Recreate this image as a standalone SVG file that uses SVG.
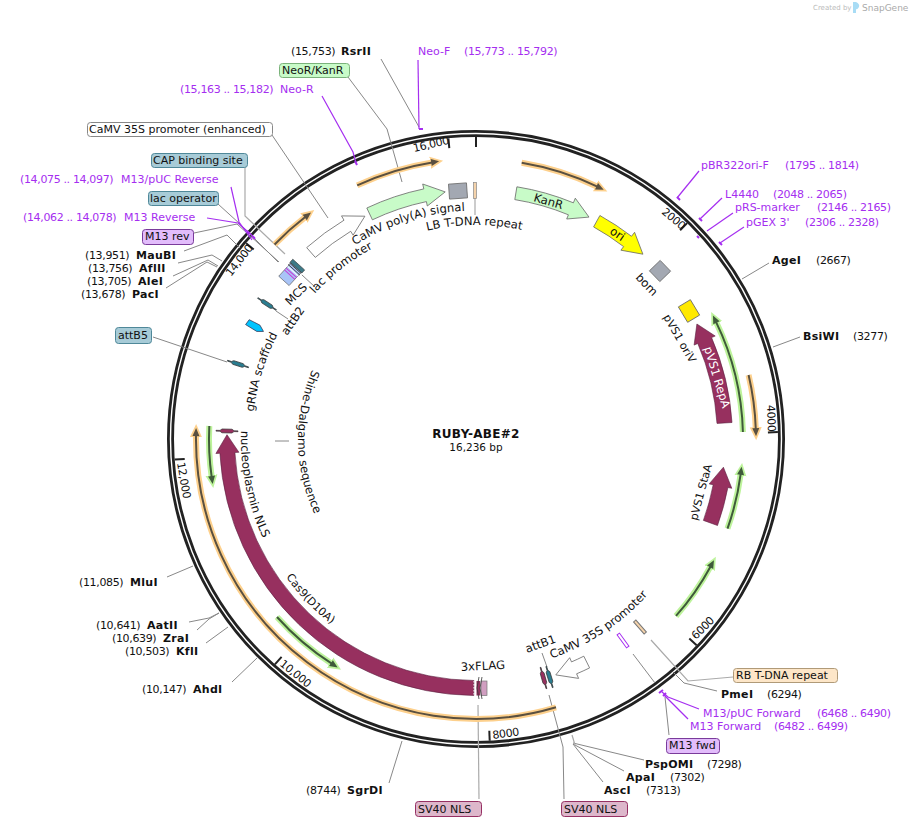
<svg xmlns="http://www.w3.org/2000/svg" width="910" height="826" viewBox="0 0 910 826">
<style>
text{font-family:"DejaVu Sans","Liberation Sans",sans-serif;font-size:11px;fill:#111}
.b{font-weight:bold;letter-spacing:.3px}
.n{letter-spacing:-.35px}
.f{font-size:11.6px}
.p{fill:#a52ef0}
.w{fill:#fff}
.l{fill:none;stroke:#888;stroke-width:1}
.ll{fill:none;stroke:#aaa;stroke-width:1.2}
.pl{fill:none;stroke:#a52ef0;stroke-width:1.2}
.pm{fill:none;stroke:#a52ef0;stroke-width:2}
.tick{stroke:#222;stroke-width:2}
.og{fill:none;stroke:#fdd08c;stroke-width:6}
.od{fill:none;stroke:#5a5040;stroke-width:2}
.gg{fill:none;stroke:#bdf39b;stroke-width:6}
.gd{fill:none;stroke:#3f5a3a;stroke-width:2}
.fs{stroke:#666;stroke-width:.8}
.m{fill:#97305f;stroke:#5a2040;stroke-width:.6}
.bx{stroke-width:1}
</style>
<defs>
<marker id="ao" markerUnits="userSpaceOnUse" markerWidth="16" markerHeight="16" refX="2" refY="8" orient="auto"><path d="M0,2 L13,8 L0,14Z" fill="#fdd08c"/></marker>
<marker id="ad" markerUnits="userSpaceOnUse" markerWidth="16" markerHeight="16" refX="2" refY="8" orient="auto"><path d="M1,4.5 L9,8 L1,11.5Z" fill="#5a5040"/></marker>
<marker id="ag" markerUnits="userSpaceOnUse" markerWidth="16" markerHeight="16" refX="2" refY="8" orient="auto"><path d="M0,2 L13,8 L0,14Z" fill="#bdf39b"/></marker>
<marker id="ae" markerUnits="userSpaceOnUse" markerWidth="16" markerHeight="16" refX="2" refY="8" orient="auto"><path d="M1,4.5 L9,8 L1,11.5Z" fill="#3f5a3a"/></marker>
<path id="sl" d="M-.4,-11 H.4 V-7 L1.9,-5 V5 L.4,7 V11 H-.4 V7 L-1.9,5 V-5 L-.4,-7Z" stroke="#333" stroke-width=".7"/>
<path id="tPolyA" d="M354.9,245.2 A228.5,228.5 0 0 1 472,210.5"/>
<path id="tLB" d="M426.1,230.9 A214,214 0 0 1 527.8,231.4"/>
<path id="tLac" d="M314.7,293.8 A217,217 0 0 1 380.9,244"/>
<path id="tGRNA" d="M253.7,411.7 A224,224 0 0 1 282,327"/>
<path id="tShine" d="M312.2,369.5 A178,178 0 0 0 318.8,522.6"/>
<path id="tNuc" d="M241.1,430.8 A235,235 0 0 0 268.5,549.3"/>
<path id="tCas" d="M285.9,577.1 A235,235 0 0 0 344.6,633.8"/>
<path id="t35S" d="M551.5,658.4 A232,232 0 0 0 658.8,581.8"/>
</defs>
<rect width="910" height="826" fill="#fff"/>

<g id="snapgene-credit">
<text x="813" y="10" style="font-size:7px;fill:#bbb">Created by</text>
<path d="M853,2 h3 q4,2 3,5 q-2,3 -3,2 v4 h-3Z" fill="#a8dcf5"/>
<text x="862" y="11" style="font-size:9px;fill:#aaa">SnapGene</text>
</g>

<g id="backbone">
<circle cx="476" cy="439" r="305.5" fill="none" stroke="#222" stroke-width="7"/>
<circle cx="476" cy="439" r="305.5" fill="none" stroke="#fff" stroke-width="1.4"/>
<line class="tick" x1="476" y1="137" x2="476" y2="147"/>
<line class="tick" x1="680.1" y1="230.2" x2="687.1" y2="223.1"/>
<line class="tick" x1="767.9" y1="432.4" x2="777.9" y2="432.1"/>
<line class="tick" x1="689.3" y1="638.4" x2="696.6" y2="645.2"/>
<line class="tick" x1="489.3" y1="730.7" x2="489.7" y2="740.7"/>
<line class="tick" x1="281.6" y1="656.9" x2="274.9" y2="664.3"/>
<line class="tick" x1="184.7" y1="458.9" x2="174.7" y2="459.5"/>
<line class="tick" x1="253.7" y1="249.6" x2="246.1" y2="243.2"/>
<line class="tick" x1="449.3" y1="148.2" x2="448.4" y2="138.3"/>
<text class="n" transform="translate(414 152) rotate(-13)">16,000</text>
<text class="n" transform="translate(231 277) rotate(-52)">14,000</text>
<text class="n" transform="translate(177 463) rotate(80)">12,000</text>
<text class="n" transform="translate(279 665) rotate(39)">10,000</text>
<text class="n" transform="translate(493 739) rotate(-8)">8000</text>
<text class="n" transform="translate(696 640) rotate(-45)">6000</text>
<text class="n" transform="translate(767 405) rotate(88)">4000</text>
<text class="n" transform="translate(661 213) rotate(40)">2000</text>
</g>

<g id="connectors">
<path class="l" d="M381,59 L419,127"/>
<path class="l" d="M348,77 L387,129 L402,182"/>
<path class="l" d="M272,135 L328,218"/>
<path class="ll" d="M245,167 V216 L285,254"/>
<path class="l" d="M218,204 L240,224 L278,262"/>
<path class="l" d="M194,233 L237,224 L279,262"/>
<path class="l" d="M184,251 L227,235 L240,248"/>
<path class="l" d="M178,263 L212,255 L222,261"/>
<path class="l" d="M173,276 L208,260 L218,266"/>
<path class="l" d="M166,288 L207,262 L217,267"/>
<path class="l" d="M153,337 L227,362"/>
<path class="l" d="M302,275 L315,287"/>
<path class="l" d="M276,311 L288,319"/>
<path class="l" d="M275,441 H289"/>
<path class="ll" d="M475,198 V215"/>
<path class="l" d="M769,263 L742,279"/>
<path class="l" d="M800,337 L773,347"/>
<path class="ll" d="M733,677 L688,681 L651,640"/>
<path class="l" d="M717,691 L684,683 L673,672"/>
<path class="l" d="M633,654 L655,683"/>
<path class="l" d="M665,697 L669,735"/>
<path class="ll" d="M478,705 L479,799"/>
<path class="l" d="M549,695 L563,747 L564,799"/>
<path class="l" d="M542,653 L547,667"/>
<path class="l" d="M644,760 L573,743"/>
<path class="l" d="M624,771 L573,744"/>
<path class="l" d="M603,782 L573,744"/>
<path class="ll" d="M572,735 L575,745"/>
<path class="l" d="M167,577 L193,566"/>
<path class="l" d="M189,622 L209,618 L219,613"/>
<path class="l" d="M197,630 L209,619 L219,613"/>
<path class="l" d="M206,643 L228,627"/>
<path class="l" d="M232,682 L257,658"/>
<path class="l" d="M389,783 L402,741"/>
<path class="pl" d="M418,60 L419,129"/>
<path class="pl" d="M322,96 L353,152 L356,163"/>
<path class="pl" d="M231,187 L239,222 L252,240"/>
<path class="pl" d="M207,218 L238,223 L255,238"/>
<path class="pl" d="M699,171 L677,198"/>
<path class="pl" d="M722,198 L700,219"/>
<path class="pl" d="M733,213 L707,231"/>
<path class="pl" d="M744,227 L720,243"/>
<path class="pl" d="M699,709 L668,697 L662,692"/>
<path class="pl" d="M688,719 L664,695"/>
</g>

<g id="primer-marks">
<path class="pm" d="M419,129 H423"/>
<path class="pm" d="M355,161 L357,165"/>
<path class="pm" d="M247,231 L250,234"/>
<path class="pm" d="M252,236 L255,239"/>
<path class="pm" d="M677,197 L680,200"/>
<path class="pm" d="M699,218 L702,221"/>
<path class="pm" d="M697,236 L699,238"/>
<path class="pm" d="M719,242 L722,245"/>
<path class="pm" d="M659,693 L663,690"/>
<path class="pm" d="M663,696 L666,693"/>
</g>

<g id="feature-orange-1"><path class="og" d="M357.2,185.4 A280,280 0 0 1 432.2,162.4" marker-end="url(#ao)"/><path class="od" d="M357.2,185.4 A280,280 0 0 1 432.2,162.4" marker-end="url(#ad)"/></g>
<g id="feature-orange-2"><path class="og" d="M274.6,244.5 A280,280 0 0 1 305.5,216.8" marker-end="url(#ao)"/><path class="od" d="M274.6,244.5 A280,280 0 0 1 305.5,216.8" marker-end="url(#ad)"/></g>
<g id="feature-orange-3"><path class="og" d="M521.7,162.8 A280,280 0 0 1 597.4,186.7" marker-end="url(#ao)"/><path class="od" d="M521.7,162.8 A280,280 0 0 1 597.4,186.7" marker-end="url(#ad)"/></g>
<g id="feature-orange-4"><path class="og" d="M748.6,375 A280,280 0 0 1 755.8,429.2" marker-end="url(#ao)"/><path class="od" d="M748.6,375 A280,280 0 0 1 755.8,429.2" marker-end="url(#ad)"/></g>
<g id="feature-orange-5"><path class="og" d="M556,707.3 A280,280 0 0 1 196,435.1" marker-end="url(#ao)"/><path class="od" d="M556,707.3 A280,280 0 0 1 196,435.1" marker-end="url(#ad)"/></g>

<g id="feature-green-1"><path class="gg" d="M742.9,432 A267,267 0 0 0 716,321.9" marker-end="url(#ag)"/><path class="gd" d="M742.9,432 A267,267 0 0 0 716,321.9" marker-end="url(#ae)"/></g>
<g id="feature-green-2"><path class="gg" d="M676,615.9 A267,267 0 0 0 710.6,566.4" marker-end="url(#ag)"/><path class="gd" d="M676,615.9 A267,267 0 0 0 710.6,566.4" marker-end="url(#ae)"/></g>
<g id="feature-green-3"><path class="gg" d="M727.5,528.6 A267,267 0 0 0 740.7,473.8" marker-end="url(#ag)"/><path class="gd" d="M727.5,528.6 A267,267 0 0 0 740.7,473.8" marker-end="url(#ae)"/></g>
<g id="feature-green-4"><path class="gg" d="M209.3,426 A267,267 0 0 0 211.7,477.1" marker-end="url(#ag)"/><path class="gd" d="M209.3,426 A267,267 0 0 0 211.7,477.1" marker-end="url(#ae)"/></g>
<g id="feature-green-5"><path class="gg" d="M277,617 A267,267 0 0 0 331.8,663.7" marker-end="url(#ag)"/><path class="gd" d="M277,617 A267,267 0 0 0 331.8,663.7" marker-end="url(#ae)"/></g>

<g id="cas9">
<path class="m" d="M473.8,695.5 A256.5,256.5 0 0 1 219.9,453.3 L215.9,453.5 L227,434.7 L238.9,452.3 L234.9,452.5 A241.5,241.5 0 0 0 473.9,680.5Z"/>
<path d="M474,681 V695" stroke="#fff" stroke-width="1" stroke-dasharray="1.5 1.5" fill="none"/>
<text><textPath href="#tCas" startOffset="0">Cas9(D10A)</textPath></text>
</g>
<g id="flag3x">
<rect x="481" y="681" width="6" height="14.5" fill="#d09ec0" stroke="#777" stroke-width=".7"/>
<path d="M476.5,681 h3.5 v14.5 h-3.5Z" fill="#97305f"/>
<path d="M479,677 L477,688 L479,699 M482,677 L480,688 L482,699" fill="none" stroke="#333" stroke-width=".8"/>
<text class="f" transform="translate(461 671) rotate(-3)">3xFLAG</text>
</g>
<g id="nucleoplasmin-nls">
<use href="#sl" fill="#97305f" transform="translate(227 431) rotate(-88.5)"/>
<text class="f"><textPath href="#tNuc">nucleoplasmin NLS</textPath></text>
</g>
<g id="shine-dalgarno"><text class="f"><textPath href="#tShine">Shine-Dalgarno sequence</textPath></text></g>

<g id="pvs1-repa">
<path class="m" d="M732,422.5 A256.5,256.5 0 0 0 711.6,337.6 L715.2,336 L696.9,324 L694.1,345.1 L697.8,343.5 A241.5,241.5 0 0 1 717,423.4Z"/>
<text class="w f" transform="translate(704 348) rotate(73)">pVS1 RepA</text>
</g>
<g id="pvs1-staa">
<path class="m" d="M717.5,525.5 A256.5,256.5 0 0 0 727.9,487.5 L731.8,488.3 L723.4,467.2 L709.2,483.9 L713.2,484.7 A241.5,241.5 0 0 1 703.4,520.4Z"/>
<text transform="translate(697 521) rotate(-75)">pVS1 StaA</text>
</g>
<g id="kanr">
<path class="fs" fill="#c8fbc8" d="M516.9,186.8 A255.5,255.5 0 0 1 573.4,202.8 L575.3,198.2 L589,217.1 L566.7,219 L568.4,214.8 A242.5,242.5 0 0 0 514.8,199.6Z"/>
<text class="f" transform="translate(533 201) rotate(16)">KanR</text>
</g>
<g id="ori">
<path class="fs" fill="#ffff00" d="M599.9,215.5 A255.5,255.5 0 0 1 631.5,236.3 L634.6,232.3 L642.9,254.2 L620.9,250.2 L623.6,246.6 A242.5,242.5 0 0 0 593.6,226.9Z"/>
<text class="f" transform="translate(609 233) rotate(34)">ori</text>
</g>
<g id="camv-polya">
<path class="fs" fill="#c8fbc8" d="M366.8,208 A255.5,255.5 0 0 1 423.8,188.9 L422.7,184 L445.2,191.9 L427.3,206 L426.4,201.6 A242.5,242.5 0 0 0 372.4,219.8Z"/>
<text class="f"><textPath href="#tPolyA">CaMV poly(A) signal</textPath></text>
</g>
<g id="camv-35s-enhanced">
<path class="fs" fill="#fff" d="M306.7,247.6 A255.5,255.5 0 0 1 344,220.2 L341.5,215.9 L364.9,216.2 L353.1,235.2 L350.7,231.3 A242.5,242.5 0 0 0 315.3,257.4Z"/>
<rect class="bx" x="87.5" y="122.5" width="185" height="14" rx="3" fill="#fff" stroke="#888"/>
<text x="89" y="133">CaMV 35S promoter (enhanced)</text>
</g>
<g id="camv-35s">
<path class="fs" fill="#fff" d="M589.6,667.9 A255.5,255.5 0 0 1 576.6,673.8 L578.6,678.4 L555.8,674.9 L569.7,657.7 L571.5,661.9 A242.5,242.5 0 0 0 583.8,656.2Z"/>
<text class="f"><textPath href="#t35S">CaMV 35S promoter</textPath></text>
</g>
<g id="lb-t-dna">
<rect x="473.5" y="182.5" width="3" height="16" fill="#f5d3ab" stroke="#888" stroke-width=".7"/>
<text class="f"><textPath href="#tLB" startOffset="1">LB T-DNA repeat</textPath></text>
</g>
<g id="grey-box"><rect x="-9" y="-7.5" width="18" height="15" fill="#a3a8b2" stroke="#666" stroke-width=".8" transform="translate(458 191) rotate(-4)"/></g>
<g id="bom">
<rect x="-7.5" y="-7.5" width="15" height="15" fill="#a3a8b2" stroke="#666" stroke-width=".8" transform="translate(660 271) rotate(46)"/>
<text class="f" transform="translate(635 278) rotate(46)">bom</text>
</g>
<g id="pvs1-oriv">
<rect x="-9" y="-7" width="18" height="14" fill="#ffe900" stroke="#666" stroke-width=".8" transform="translate(689 311) rotate(59)"/>
<text transform="translate(663 317) rotate(60)">pVS1 oriV</text>
</g>
<g id="mcs" transform="translate(292 272) rotate(-47.8)">
<rect x="-12" y="-7" width="18" height="14" fill="#a9c4f7" stroke="#555" stroke-width=".6"/>
<path d="M-3.5,-7 V7 M-1,-7 V7" stroke="#c93ad8" stroke-width="1"/>
<path d="M1.2,-7 V7" stroke="#fff" stroke-width="1"/>
<path d="M3,-8 V8 M5,-8 V8" stroke="#444" stroke-width=".9"/>
<rect x="6" y="-8" width="4" height="16" fill="#3c7a88" stroke="#333" stroke-width=".6"/>
</g>
<g id="mcs-label"><text class="f" transform="translate(290 306) rotate(-45)">MCS</text></g>
<g id="lac-promoter"><text class="f"><textPath href="#tLac">lac promoter</textPath></text></g>
<g id="attb2">
<use href="#sl" fill="#2a7d90" transform="translate(267 304) rotate(-57)"/>
<text class="f" transform="translate(287 336) rotate(-55)">attB2</text>
</g>
<g id="grna-feature">
<path d="M-3,-9 L3,-8 L3,4 L-1,10 L-4,4Z" fill="#00c4ff" stroke="#335" stroke-width=".7" transform="translate(255 326) rotate(-63)"/>
<text class="f"><textPath href="#tGRNA">gRNA scaffold</textPath></text>
</g>
<g id="attb5">
<use href="#sl" fill="#2a7d90" transform="translate(238 364) rotate(-72.5)"/>
<rect class="bx" x="115.5" y="327.5" width="36" height="16" rx="3" fill="#a7cbd7" stroke="#4f8899"/>
<text x="118" y="339">attB5</text>
</g>
<g id="attb1">
<use href="#sl" fill="#97305f" transform="translate(543.5 678) rotate(164.3)"/>
<use href="#sl" fill="#2a7d90" transform="translate(549.5 677) rotate(162.8)"/>
<text class="f" transform="translate(527 653) rotate(-20)">attB1</text>
</g>
<g id="m13-fwd-feature"><rect x="-1.5" y="-8" width="3" height="16" fill="#fff" stroke="#a52ef0" stroke-width="1" transform="translate(623 640.5) rotate(143.8)"/></g>
<g id="rb-t-dna-feature"><rect x="-1.5" y="-8" width="3" height="16" fill="#f5d3ab" stroke="#777" stroke-width="1" transform="translate(640 627) rotate(138.9)"/></g>

<g id="label-neor"><rect class="bx" x="279.5" y="63.5" width="70" height="14" rx="3" fill="#c8fbc8" stroke="#7bb27b"/><text x="282" y="74">NeoR/KanR</text></g>
<g id="label-cap"><rect class="bx" x="151.5" y="153.5" width="96" height="14" rx="3" fill="#a7cbd7" stroke="#4f8899"/><text x="153" y="164">CAP binding site</text></g>
<g id="label-lacop"><rect class="bx" x="148.5" y="191.5" width="70" height="14" rx="3" fill="#a7cbd7" stroke="#4f8899"/><text x="150" y="202">lac operator</text></g>
<g id="label-m13rev"><rect class="bx" x="142.5" y="229.5" width="51" height="15" rx="3" fill="#e2bcfb" stroke="#7a3b9b"/><text x="145" y="240">M13 rev</text></g>
<g id="label-rb"><rect class="bx" x="733.5" y="668.5" width="104" height="14" rx="3" fill="#fde6c8" stroke="#b09a78"/><text x="736" y="679">RB T-DNA repeat</text></g>
<g id="label-m13fwd"><rect class="bx" x="666.5" y="738.5" width="53" height="15" rx="3" fill="#e2bcfb" stroke="#7a3b9b"/><text x="669" y="749">M13 fwd</text></g>
<g id="label-sv40-1"><rect class="bx" x="415.5" y="801.5" width="66" height="15" rx="3" fill="#ddb7cb" stroke="#963063"/><text x="418" y="813">SV40 NLS</text></g>
<g id="label-sv40-2"><rect class="bx" x="561.5" y="801.5" width="66" height="15" rx="3" fill="#ddb7cb" stroke="#963063"/><text x="564" y="813">SV40 NLS</text></g>

<g id="sites">
<text class="n" x="291" y="55">(15,753)</text><text class="b" x="341" y="55">RsrII</text>
<text class="n" x="85" y="259">(13,951)</text><text class="b" x="136" y="259">MauBI</text>
<text class="n" x="88" y="272">(13,756)</text><text class="b" x="139" y="272">AflII</text>
<text class="n" x="87" y="285">(13,705)</text><text class="b" x="138" y="285">AleI</text>
<text class="n" x="81" y="298">(13,678)</text><text class="b" x="132" y="298">PacI</text>
<text class="b" x="772" y="264">AgeI</text><text class="n" x="816" y="264">(2667)</text>
<text class="b" x="803" y="340">BsiWI</text><text class="n" x="853" y="340">(3277)</text>
<text class="b" x="721" y="698">PmeI</text><text class="n" x="767" y="698">(6294)</text>
<text class="b" x="645" y="768">PspOMI</text><text class="n" x="707" y="768">(7298)</text>
<text class="b" x="626" y="781">ApaI</text><text class="n" x="670" y="781">(7302)</text>
<text class="b" x="604" y="794">AscI</text><text class="n" x="646" y="794">(7313)</text>
<text class="n" x="306" y="794">(8744)</text><text class="b" x="347" y="794">SgrDI</text>
<text class="n" x="142" y="693">(10,147)</text><text class="b" x="193" y="693">AhdI</text>
<text class="n" x="125" y="655">(10,503)</text><text class="b" x="176" y="655">KflI</text>
<text class="n" x="112" y="642">(10,639)</text><text class="b" x="163" y="642">ZraI</text>
<text class="n" x="96" y="629">(10,641)</text><text class="b" x="147" y="629">AatII</text>
<text class="n" x="79" y="586">(11,085)</text><text class="b" x="130" y="586">MluI</text>
</g>
<g id="primers">
<text class="p" x="418" y="55">Neo-F</text><text class="p n" x="464" y="55">(15,773 .. 15,792)</text>
<text class="p n" x="180" y="93">(15,163 .. 15,182)</text><text class="p" x="280" y="93">Neo-R</text>
<text class="p n" x="20" y="183">(14,075 .. 14,097)</text><text class="p" x="121" y="183">M13/pUC Reverse</text>
<text class="p n" x="23" y="221">(14,062 .. 14,078)</text><text class="p" x="124" y="221">M13 Reverse</text>
<text class="p" x="701" y="169">pBR322ori-F</text><text class="p n" x="785" y="169">(1795 .. 1814)</text>
<text class="p" x="725" y="198">L4440</text><text class="p n" x="773" y="198">(2048 .. 2065)</text>
<text class="p" x="735" y="211">pRS-marker</text><text class="p n" x="817" y="211">(2146 .. 2165)</text>
<text class="p" x="746" y="226">pGEX 3'</text><text class="p n" x="805" y="226">(2306 .. 2328)</text>
<text class="p" x="703" y="717">M13/pUC Forward</text><text class="p n" x="817" y="717">(6468 .. 6490)</text>
<text class="p" x="690" y="730">M13 Forward</text><text class="p n" x="774" y="730">(6482 .. 6499)</text>
</g>
<g id="title">
<text class="b" x="476" y="438" text-anchor="middle" style="font-size:12px">RUBY-ABE#2</text>
<text x="476" y="451" text-anchor="middle" style="font-size:10.5px">16,236 bp</text>
</g>
</svg>
